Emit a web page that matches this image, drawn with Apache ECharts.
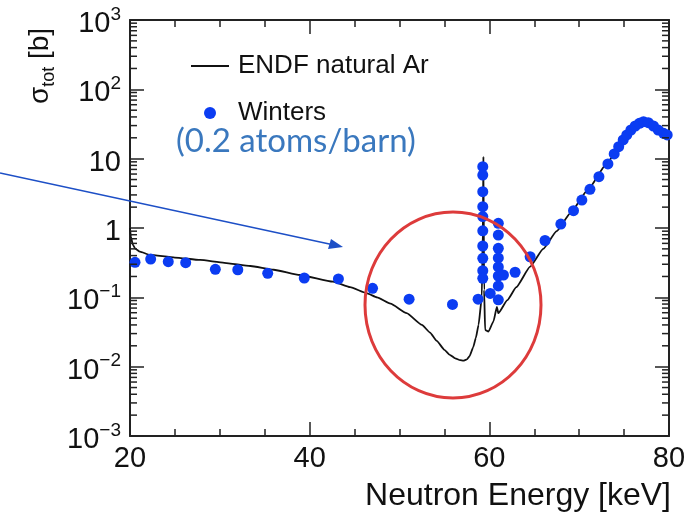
<!DOCTYPE html>
<html>
<head>
<meta charset="utf-8">
<script src="https://cdn.jsdelivr.net/npm/echarts@6/dist/echarts.min.js"></script>
<style>
  html, body { margin: 0; padding: 0; background: #fff; }
  #chart { width: 698px; height: 522px; }
</style>
</head>
<body>
<div id="chart"></div>
<script>
// ENDF natural Ar total cross section (keV, barn)
var endfEnergy = [20.0, 20.1, 20.3, 20.6, 21.1, 22.2, 25, 27.8, 30.5, 33.4, 36, 38.9, 42.6, 44.5, 46.4, 47.5, 49, 50.8, 52.5, 53.4, 54.15, 55.0, 55.6, 56.2, 56.75, 57.1, 57.5, 57.8, 58.2, 58.5, 58.8, 59.16, 59.28, 59.34, 59.42, 59.53, 59.9, 60.46, 60.84, 61.0, 62, 63, 64.54, 66, 67.5, 69, 71, 73.1, 74.5, 75.7, 77.0, 77.7, 78.5, 80];
var endfSigma = [1.0, 0.75, 0.58, 0.5, 0.455, 0.41, 0.375, 0.346, 0.315, 0.283, 0.25, 0.21, 0.168, 0.14, 0.114, 0.1, 0.081, 0.059, 0.04, 0.031, 0.0235, 0.0175, 0.0148, 0.0132, 0.0124, 0.0122, 0.0127, 0.0142, 0.019, 0.026, 0.04, 0.1, 1.0, 10.7, 0.128, 0.034, 0.032, 0.045, 0.073, 0.059, 0.091, 0.14, 0.277, 0.5, 0.9, 1.63, 3.6, 8.6, 15, 25, 33, 33, 28, 22];

// Winters measurement (0.2 atoms/barn)
var wintersEnergy = [20.56, 22.3, 24.26, 26.2, 29.5, 32.0, 35.33, 39.4, 43.2, 47.0, 51.07, 55.9, 58.75,
  59.27, 59.27, 59.27, 59.27, 59.27, 59.27, 59.27, 59.27, 59.27, 59.27,
  61.0, 61.0, 61.0, 61.0, 61.0, 61.0, 61.0, 61.0,
  60.1, 61.57, 62.87, 64.54, 66.2, 67.96, 69.37, 70.3, 71.2, 72.2, 73.2, 73.9, 74.4, 74.9, 75.3, 75.76, 76.24, 76.7, 77.16, 77.7, 78.27, 78.8, 79.4, 79.8];
var wintersSigma = [0.32, 0.357, 0.327, 0.316, 0.254, 0.25, 0.222, 0.19, 0.184, 0.135, 0.094, 0.079, 0.094,
  7.66, 5.8, 3.34, 2.03, 1.46, 0.91, 0.55, 0.366, 0.242, 0.188,
  1.17, 0.79, 0.51, 0.37, 0.274, 0.203, 0.146, 0.092,
  0.114, 0.21, 0.23, 0.385, 0.66, 1.14, 1.78, 2.53, 3.61, 5.5, 8.4, 11.7, 14.9, 18.6, 22, 25.9, 29.6, 32.4, 34.2, 33, 29.6, 25.9, 23.2, 22];

// log axis minor tick values (2..9 x 10^k)
var minorTickVals = [];
for (var k = -3; k < 3; k++) {
  for (var m = 2; m <= 9; m++) minorTickVals.push(m * Math.pow(10, k));
}

var FONT = 'Liberation Sans';
var endfData = endfEnergy.map(function (e, i) { return [e, endfSigma[i]]; });
var wintersData = wintersEnergy.map(function (e, i) { return [e, wintersSigma[i]]; });
var sup = { '-3': '\u22123', '-2': '\u22122', '-1': '\u22121', '2': '2', '3': '3' };

var chart = echarts.init(document.getElementById('chart'));

var xAxisBase = {
  type: 'value', min: 20, max: 80, interval: 20,
  axisLine: { show: true, onZero: false, lineStyle: { color: '#222', width: 2 } },
  axisTick: { show: true, inside: true, length: 14, lineStyle: { color: '#222', width: 1.5 } },
  minorTick: { show: true, splitNumber: 4, length: 7, lineStyle: { color: '#222', width: 1.5 } },
  splitLine: { show: false }, minorSplitLine: { show: false }
};
var yAxisBase = {
  type: 'log', logBase: 10, min: 0.001, max: 1000, splitNumber: 6,
  axisLine: { show: true, onZero: false, lineStyle: { color: '#222', width: 2 } },
  axisTick: { show: true, inside: true, length: 14, lineStyle: { color: '#222', width: 1.5 } },
  splitLine: { show: false }
};

chart.setOption({
  animation: false,
  backgroundColor: '#fff',
  grid: { left: 130, right: 29, top: 20, bottom: 86, containLabel: false, outerBoundsMode: 'none' },
  legend: {
    orient: 'vertical', left: 185, top: 48, itemWidth: 38, itemHeight: 12, itemGap: 21,
    textStyle: { fontSize: 26, fontFamily: FONT, color: '#111', padding: [0, 0, 0, 4] },
    data: [
      { name: 'ENDF natural Ar', itemStyle: { opacity: 0 } },
      { name: 'Winters', icon: 'circle' }
    ]
  },
  xAxis: [
    Object.assign({}, xAxisBase, {
      position: 'bottom',
      axisLabel: { show: true, margin: 8, fontSize: 29, fontFamily: FONT, color: '#111' }
    }),
    Object.assign({}, xAxisBase, { position: 'top', axisLabel: { show: false } })
  ],
  yAxis: [
    Object.assign({}, yAxisBase, {
      position: 'left',
      axisLabel: {
        show: true, margin: 9, color: '#111',
        formatter: function (v) {
          var p = Math.round(Math.log10(v));
          if (p === 0) return '{b|1}';
          if (p === 1) return '{b|10}';
          return '{b|10}{s|' + sup[String(p)] + '}';
        },
        rich: {
          b: { fontSize: 29, fontFamily: FONT, color: '#111', lineHeight: 30, padding: [8, 0, 0, 0] },
          s: { fontSize: 19, fontFamily: FONT, color: '#111', lineHeight: 30, verticalAlign: 'top' }
        }
      }
    }),
    Object.assign({}, yAxisBase, { position: 'right', axisLabel: { show: false } })
  ],
  graphic: [
    {
      type: 'text', x: 671, y: 496, z: 10,
      style: { text: 'Neutron Energy [keV]', fontSize: 32, fontFamily: FONT, fill: '#111', align: 'right', verticalAlign: 'middle' }
    },
    {
      type: 'text', x: 176, y: 141, z: 10,
      style: { text: '(0.2 atoms/barn)', fontSize: 33, fontFamily: 'Lato', fill: '#3a78be', verticalAlign: 'middle' }
    },
    {
      type: 'ellipse', z: 10, silent: true,
      shape: { cx: 453, cy: 305, rx: 88, ry: 93 },
      style: { fill: 'none', stroke: '#dd3b3b', lineWidth: 3 }
    },
    {
      type: 'line', z: 10, silent: true,
      shape: { x1: 0, y1: 173, x2: 334, y2: 245 },
      style: { stroke: '#1d4fc6', lineWidth: 1.6 }
    },
    {
      type: 'polygon', z: 10, silent: true,
      shape: { points: [[343, 247], [328, 249], [331, 239]] },
      style: { fill: '#1d4fc6' }
    },
    {
      type: 'text', z: 10, x: 42, y: 66, rotation: Math.PI / 2,
      style: {
        text: '{a|σ}{t|tot}{a| [b]}', align: 'center', verticalAlign: 'middle',
        rich: {
          a: { fontSize: 28, fontFamily: FONT, fill: '#111', lineHeight: 32, verticalAlign: 'top' },
          t: { fontSize: 18, fontFamily: FONT, fill: '#111', lineHeight: 32, verticalAlign: 'bottom', padding: [12, 0, 0, 0] }
        }
      }
    }
  ],
  series: [
    {
      name: 'ENDF natural Ar', type: 'line', data: endfData, symbol: 'none',
      smooth: 0.15, smoothMonotone: 'x',
      lineStyle: { color: '#111', width: 1.8 }, itemStyle: { color: '#111' }, z: 3
    },
    {
      name: 'Winters', type: 'scatter', data: wintersData, symbolSize: 11,
      itemStyle: { color: '#0b3cf2', opacity: 1 }, z: 4
    },
    {
      type: 'custom', silent: true, z: 5, clip: false,
      data: minorTickVals.map(function (v) { return [20, v]; }),
      renderItem: function (params, api) {
        var pl = api.coord([20, api.value(1)]);
        var pr = api.coord([80, api.value(1)]);
        var st = { stroke: '#222', lineWidth: 1.5 };
        return {
          type: 'group',
          children: [
            { type: 'line', shape: { x1: pl[0], y1: pl[1], x2: pl[0] + 7, y2: pl[1] }, style: st },
            { type: 'line', shape: { x1: pr[0] - 7, y1: pr[1], x2: pr[0], y2: pr[1] }, style: st }
          ]
        };
      }
    }
  ]
});
</script>
</body>
</html>
